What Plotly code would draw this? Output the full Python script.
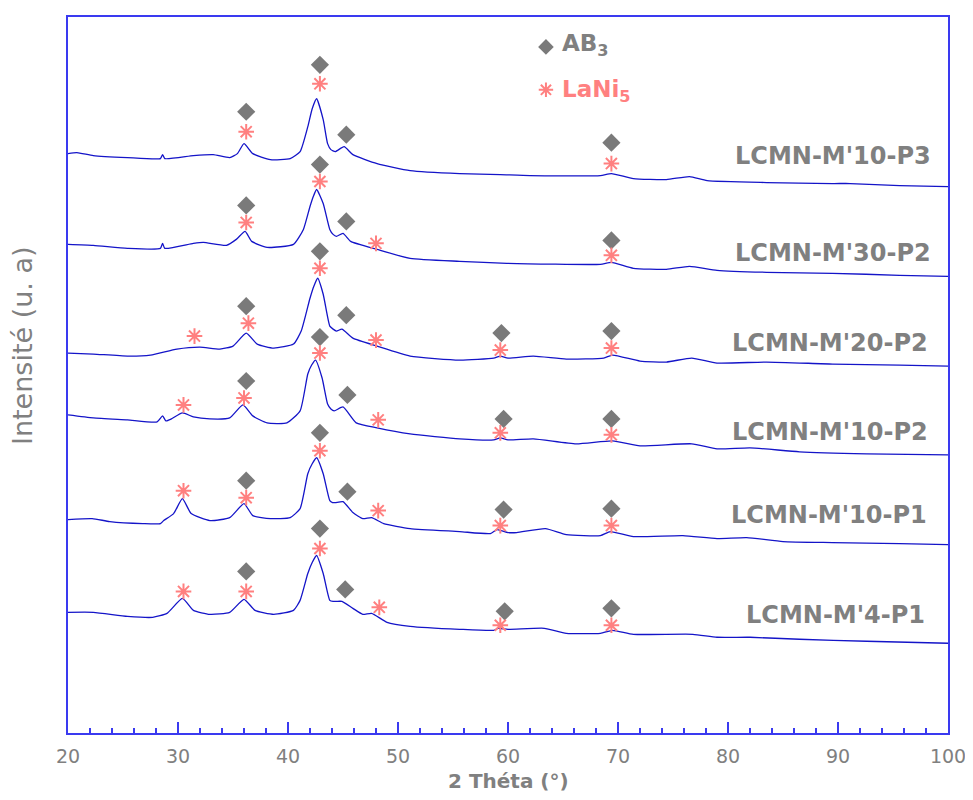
import plotly.graph_objects as go

# ---------------- data (2θ in degrees, intensity in arbitrary units incl. stacking offset) ----------------
names = ["LCMN-M'10-P3", "LCMN-M'30-P2", "LCMN-M'20-P2", "LCMN-M'10-P2", "LCMN-M'10-P1", "LCMN-M'4-P1"]

tt_p3 = [20.0, 20.8, 22.3, 25.4, 28.4, 28.6, 28.8, 31.4, 33.2, 34.7, 35.4, 36.0, 36.8, 38.4, 40.2, 41.1, 41.8,
         42.2, 42.6, 43.2, 43.6, 43.9, 44.3, 45.1, 45.9, 48.1, 51.1, 55.6, 59.3, 62.0, 68.4, 69.4, 71.4, 74.4,
         76.5, 78.1, 83.5, 89.5, 91.1, 95.6, 100.0]
int_p3 = [580, 581, 578, 576, 575, 579, 575, 578, 579, 576, 580, 590, 580, 574, 575, 582, 607,
          625, 635, 614, 590, 584, 582, 587, 579, 570, 563, 560, 559, 558, 558, 560, 555, 554,
          557, 553, 551, 550, 550, 548, 547]

tt_m30 = [20.0, 22.3, 25.4, 28.4, 28.6, 28.8, 31.4, 32.3, 34.4, 35.3, 36.1, 36.7, 38.1, 40.5, 41.4, 42.0,
          42.3, 42.6, 43.2, 43.8, 44.1, 44.4, 45.0, 45.7, 48.1, 51.1, 55.6, 59.9, 68.4, 69.4, 71.4, 74.4,
          76.5, 79.0, 83.5, 89.5, 95.6, 100.0]
int_m30 = [489, 488, 485, 485, 490, 485, 490, 491, 488, 494, 502, 492, 486, 489, 504, 527,
           537, 544, 530, 504, 499, 497, 500, 492, 484, 475, 472, 470, 469, 471, 465, 464,
           467, 463, 461, 460, 458, 457]

tt_m20 = [20.0, 22.3, 25.4, 27.5, 29.9, 32.0, 33.8, 35.0, 36.2, 37.2, 38.7, 40.5, 41.2, 42.0, 42.35, 42.7,
          43.2, 43.8, 44.1, 44.4, 44.9, 45.9, 48.1, 51.1, 55.6, 58.7, 59.3, 60.0, 62.3, 65.3, 68.7, 69.5,
          72.0, 74.4, 76.7, 79.0, 83.5, 89.5, 95.6, 100.0]
int_m20 = [380, 379, 377, 378, 384, 386, 384, 387, 400, 389, 385, 389, 402, 435, 447, 455,
           439, 407, 404, 402, 404, 395, 387, 377, 373, 375, 377, 375, 377, 374, 375, 378,
           372, 371, 375, 370, 371, 369, 368, 367]

tt_m10p2 = [20.0, 22.3, 25.4, 28.1, 28.6, 28.9, 29.4, 30.4, 31.4, 32.9, 34.7, 35.9, 36.8, 38.1, 39.9, 41.1,
            41.8, 42.15, 42.5, 43.1, 43.6, 43.9, 44.2, 45.0, 46.2, 48.1, 51.1, 55.6, 58.7, 59.3, 60.0, 62.3,
            66.2, 69.5, 72.0, 76.7, 79.0, 82.0, 86.5, 92.6, 100.0]
int_m10p2 = [318, 315, 313, 311, 317, 312, 314, 320, 316, 314, 315, 328, 317, 310, 310, 322,
             359, 368, 373, 355, 329, 324, 322, 326, 310, 305, 299, 294, 293, 295, 293, 294,
             289, 292, 287, 289, 284, 285, 281, 279, 278]

tt_m10p1 = [20.0, 22.2, 23.8, 26.8, 28.4, 28.7, 29.6, 30.4, 31.2, 32.9, 34.7, 36.0, 36.8, 38.4, 40.2, 41.1,
            41.8, 42.2, 42.6, 43.2, 43.8, 44.05, 44.3, 45.0, 45.9, 46.8, 47.6, 48.7, 51.1, 55.6, 58.4, 59.0,
            60.0, 60.8, 63.4, 65.3, 68.4, 69.3, 71.4, 75.9, 79.0, 81.7, 85.0, 89.5, 95.6, 100.0]
int_m10p1 = [213, 214, 211, 209, 209, 212, 219, 234, 219, 212, 215, 229, 217, 214, 215, 224,
             259, 269, 275, 259, 232, 230, 230, 231, 220, 214, 215, 209, 204, 201, 199, 203,
             200, 200, 204, 198, 197, 201, 196, 197, 194, 195, 191, 190, 189, 188]

tt_m4p1 = [20.0, 22.3, 25.4, 27.7, 29.0, 30.4, 31.4, 32.9, 34.7, 36.0, 37.0, 38.7, 40.5, 41.1, 41.8, 42.2,
           42.6, 43.2, 43.8, 44.1, 44.4, 44.9, 45.9, 46.8, 47.6, 49.0, 51.1, 55.6, 58.7, 59.1, 60.0, 63.3,
           65.3, 68.4, 69.5, 71.4, 76.8, 79.0, 82.0, 86.5, 92.6, 100.0]
int_m4p1 = [120, 120, 116, 115, 119, 134, 122, 118, 120, 133, 122, 118, 122, 132, 159, 170,
            177, 159, 132, 131, 131, 131, 124, 118, 119, 110, 106, 103, 102, 104, 103, 104,
            99, 99, 102, 98, 98, 95, 95, 93, 91, 89]

curves_tt = [tt_p3, tt_m30, tt_m20, tt_m10p2, tt_m10p1, tt_m4p1]
curves_int = [int_p3, int_m30, int_m20, int_m10p2, int_m10p1, int_m4p1]

# phase markers (AB3 = diamonds, LaNi5 = asterisks)
ab3_tt = [36.2, 42.9, 45.3, 69.4,
          36.2, 42.9, 45.3, 69.4,
          36.2, 42.9, 45.3, 59.4, 69.4,
          36.2, 42.9, 45.4, 59.6, 69.4,
          36.2, 42.9, 45.4, 59.6, 69.4,
          36.2, 42.9, 45.2, 59.7, 69.4]
ab3_int = [622, 669, 599, 591,
           528, 569, 512, 493,
           427, 482, 418, 400, 402,
           352, 396, 338, 314, 314,
           252, 300, 241, 223, 224,
           161, 204, 143, 121, 124]

lani5_tt = [36.2, 42.9, 69.4,
            36.2, 42.9, 48.0, 69.4,
            31.5, 36.4, 42.9, 48.0, 59.3, 69.4,
            30.5, 36.0, 42.9, 48.2, 59.3, 69.4,
            30.5, 36.2, 42.9, 48.2, 59.3, 69.4,
            30.5, 36.2, 42.9, 48.3, 59.3, 69.4]
lani5_int = [602, 650, 570,
             511, 552, 490, 478,
             397, 410, 465, 393, 383, 385,
             328, 335, 380, 313, 300, 298,
             242, 235, 282, 222, 207, 207,
             141, 141, 184, 125, 107, 107]

x_ticks = [20, 30, 40, 50, 60, 70, 80, 90, 100]

# ---------------- styling ----------------
AXIS_BLUE = "#3a3af0"
CURVE_BLUE = "#1414c8"
GRAY = "#808080"
SALMON = "#ff8080"
FONT = "DejaVu Sans"

label_y = [578, 480, 390, 301, 218, 117]
label_x = [98.6, 98.6, 98.4, 98.4, 98.3, 98.1]

fig = go.Figure()

for tt, iv in zip(curves_tt, curves_int):
    fig.add_trace(go.Scatter(x=tt, y=iv, mode="lines",
                             line=dict(color=CURVE_BLUE, width=1.3, shape="spline", smoothing=0.5),
                             hoverinfo="skip", showlegend=False))

fig.add_trace(go.Scatter(x=ab3_tt, y=ab3_int, mode="markers",
                         marker=dict(symbol="diamond", size=14, color="#7a7a7a"),
                         showlegend=False))
fig.add_trace(go.Scatter(x=lani5_tt, y=lani5_int, mode="markers",
                         marker=dict(symbol="asterisk", size=13, color=SALMON,
                                     line=dict(color=SALMON, width=2)),
                         showlegend=False))

# legend key (drawn manually)
fig.add_trace(go.Scatter(x=[63.45], y=[687], mode="markers",
                         marker=dict(symbol="diamond", size=12, color="#7a7a7a"), showlegend=False))
fig.add_trace(go.Scatter(x=[63.45], y=[644], mode="markers",
                         marker=dict(symbol="asterisk", size=12, color=SALMON,
                                     line=dict(color=SALMON, width=2)), showlegend=False))

annotations = [
    dict(x=64.7, y=689, xref="x", yref="y", text="<b>AB<sub>3</sub></b>", showarrow=False,
         xanchor="left", yanchor="middle", font=dict(family=FONT, size=23, color=GRAY)),
    dict(x=64.7, y=643, xref="x", yref="y", text="<b>LaNi<sub>5</sub></b>", showarrow=False,
         xanchor="left", yanchor="middle", font=dict(family=FONT, size=23, color=SALMON)),
    dict(x=-0.0523, y=0.5418, xref="paper", yref="paper", text="Intensité (u. a)", showarrow=False,
         textangle=-90, xanchor="center", yanchor="middle", font=dict(family=FONT, size=27, color=GRAY)),
    dict(x=0.5, y=-0.0675, xref="paper", yref="paper", text="<b>2 Théta (°)</b>", showarrow=False,
         xanchor="center", yanchor="middle", font=dict(family=FONT, size=20, color=GRAY)),
]
for name, lx, ly in zip(names, label_x, label_y):
    annotations.append(dict(x=lx, y=ly, xref="x", yref="y", text="<b>" + name + "</b>", showarrow=False,
                            xanchor="right", yanchor="middle", font=dict(family=FONT, size=24, color=GRAY)))

# page body has an 8px default margin, so the figure is sized to fit the 973x800 window exactly
fig.update_layout(
    width=965, height=784,
    margin=dict(l=60, r=25, t=7, b=59),
    paper_bgcolor="white", plot_bgcolor="white",
    annotations=annotations,
    xaxis=dict(range=[20, 100], tickvals=x_ticks, ticks="inside", ticklen=11, tickwidth=1.5,
               tickcolor=AXIS_BLUE, showline=True, linecolor=AXIS_BLUE, linewidth=1.5, mirror=True,
               showgrid=False, zeroline=False, ticklabelstandoff=5,
               tickfont=dict(family=FONT, size=19, color=GRAY),
               minor=dict(dtick=2, ticks="inside", ticklen=5, tickcolor=AXIS_BLUE, tickwidth=1.5, showgrid=False)),
    yaxis=dict(range=[-1, 717], showticklabels=False, ticks="", showline=True, linecolor=AXIS_BLUE,
               linewidth=1.5, mirror=True, showgrid=False, zeroline=False),
)

fig.write_html("out.html")
